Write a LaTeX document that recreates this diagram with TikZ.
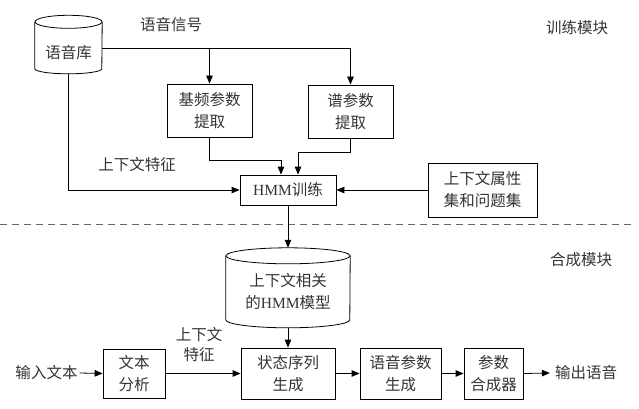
\documentclass[tikz,border=0pt]{standalone}
\usepackage{fontspec}
\setmainfont{Liberation Serif}
\newfontfamily\cjk{Noto Sans CJK SC}
\usetikzlibrary{arrows.meta}
\tikzset{
  txt/.style={font=\fontsize{15.5}{22}\selectfont\cjk, text=black!80, align=center, inner sep=0pt},
  box/.style={draw, line width=0.8pt, txt},
  arr/.style={line width=0.8pt, -{Triangle[length=8pt,width=6.5pt]}},
  ln/.style={line width=0.8pt},
}
\begin{document}
\begin{tikzpicture}[x=1pt,y=-1pt]
\useasboundingbox (0,0) rectangle (639,409);
% training module
\node[inner sep=0pt, minimum width=67pt, minimum height=52pt] (db1) at (68.5,48) {};
\draw[ln] (db1.north) ellipse [x radius=33.5pt, y radius=6.5pt];
\draw[ln] (db1.north west) -- ++(0,47) arc[start angle=180, end angle=360, x radius=33.5pt, y radius=5pt] -- (db1.north east);
\node[txt] (db1t) at (68.5,53) {语音库};

\node[txt] (sig) at (171,25) {语音信号};
\node[txt] (trainlab) at (577,28) {训练模块};
\node[txt] (ctxlab) at (137,165) {上下文特征};

\node[box, minimum width=85pt, minimum height=53pt] (f0) at (209.5,110.5) {基频参数\\提取};
\node[box, minimum width=85pt, minimum height=53pt] (spec) at (350.5,111.5) {谱参数\\提取};
\node[box, minimum width=96pt, minimum height=30pt] (hmm) at (288,190) {{\rmfamily HMM}训练};
\node[box, minimum width=109pt, minimum height=54pt] (attr) at (482.5,190) {上下文属性\\集和问题集};

\draw[arr] (db1.east) -| (spec.north);
\draw[arr] (f0.north |- db1.east) -- (f0.north);
\draw[arr] (f0.south) -- ++(0,23) -| ([xshift=-7pt]hmm.north);
\draw[arr] (spec.south) -- ++(0,14) -| ([xshift=10pt]hmm.north);
\draw[arr] (db1.south) |- (hmm.west);
\draw[arr] (attr.west) -- (hmm.east);

% separator
\draw[line width=0.8pt, black!60, dash pattern=on 7pt off 5pt] (0,224) -- (632,224);

% synthesis module
\node[txt] (synlab) at (581,260) {合成模块};
\node[inner sep=0pt, minimum width=124pt, minimum height=72pt, txt] (db2) at (288,292) {上下文相关\\的{\rmfamily HMM}模型};
\draw[ln] (db2.north) ellipse [x radius=62pt, y radius=8pt];
\draw[ln] (db2.north west) -- ++(0,64) arc[start angle=180, end angle=360, x radius=62pt, y radius=8pt] -- (db2.north east);

\node[box, minimum width=94pt, minimum height=51pt] (state) at (288,373.5) {状态序列\\生成};
\node[box, minimum width=62pt, minimum height=49pt] (ta) at (134,373.5) {文本\\分析};
\node[box, minimum width=81pt, minimum height=51pt] (sp) at (400.5,373.5) {语音参数\\生成};
\node[box, minimum width=59pt, minimum height=51pt] (syn) at (493.5,373.5) {参数\\合成器};
\node[txt] (in) at (46.5,373) {输入文本};
\node[txt] (out) at (586,373) {输出语音};
\node[txt, font=\fontsize{15.5}{20}\selectfont\cjk] (ctx2) at (199,345) {上下文\\特征};

\draw[arr] (hmm.south) -- ([yshift=8pt]db2.north);
\draw[arr] (db2.south) -- (state.north);
\draw[arr] ([xshift=2pt]in.east) -- (ta.west);
\draw[arr] (ta.east) -- (state.west);
\draw[arr] (state.east) -- (sp.west);
\draw[arr] (sp.east) -- (syn.west);
\draw[arr] (syn.east) -- ([xshift=-5pt]out.west);
\end{tikzpicture}
\end{document}
